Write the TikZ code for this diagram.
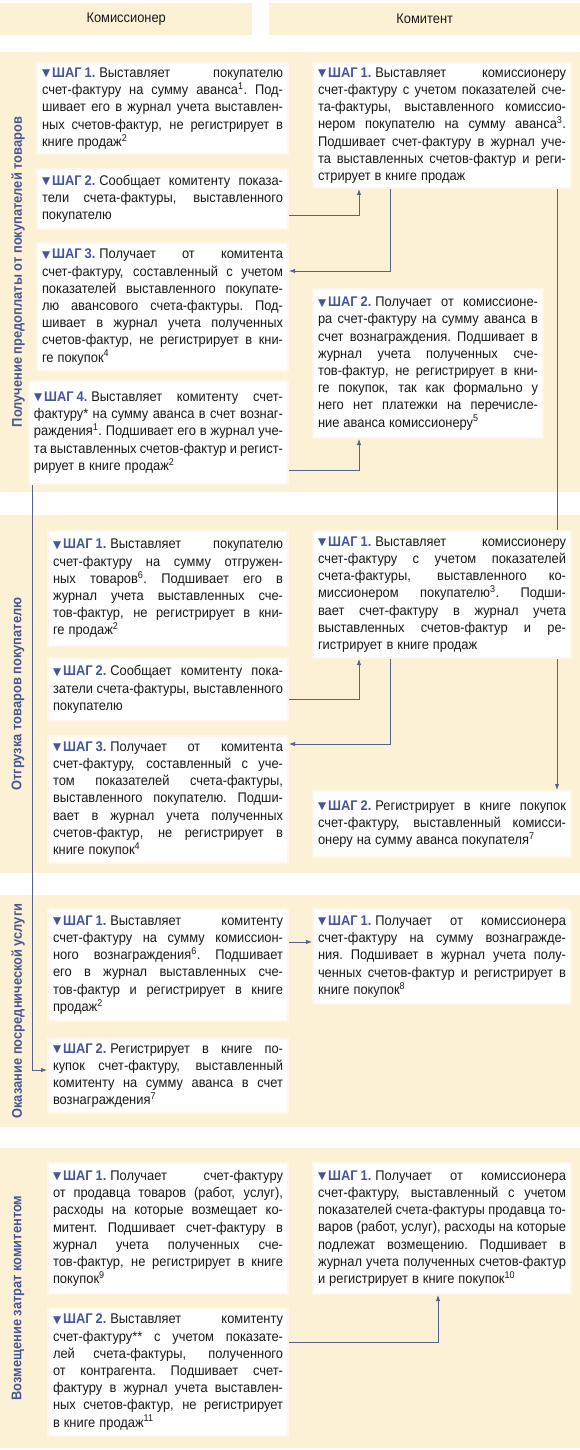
\documentclass[tikz,border=0pt]{standalone}
\usepackage{fontspec}
\setmainfont{Liberation Sans}[FakeStretch=0.92]
\newfontfamily\djv{DejaVu Sans}
\usetikzlibrary{arrows.meta}
\definecolor{band}{RGB}{253,241,213}
\definecolor{stepblue}{RGB}{70,86,150}
\definecolor{txt}{RGB}{25,25,25}
\definecolor{conn}{RGB}{88,98,145}
\definecolor{boxedge}{RGB}{254,247,232}
\newlength\bw
\newcommand\stp[1]{{\color{stepblue}\raisebox{0.6pt}{\djv\fontsize{10.5}{10}\selectfont ▼}\hspace{2pt}\textbf{ШАГ\hspace{3pt}#1.}}\hspace{4pt}}
\newcommand\J[1]{{\spaceskip=4pt plus 1fil minus 1.8pt\xspaceskip=4pt plus 1fil minus 1.8pt\makebox[\bw][s]{#1}}}
\pgfdeclarelayer{bands}
\pgfdeclarelayer{lines}
\pgfsetlayers{bands,lines,main}
\begin{document}
\begin{tikzpicture}[x=1pt,y=-1pt,
  stepbox/.style={draw=boxedge, line width=2pt, fill=white, anchor=north west,
    inner xsep=5pt, inner ysep=4pt, align=left, text=txt,
    text width=#1, execute at begin node={\setlength{\bw}{#1}\spaceskip=4pt\xspaceskip=4pt},
    font=\fontsize{14}{17.2}\selectfont},
  hdr/.style={fill=band, anchor=north west, inner sep=0pt, text=txt,
    font=\fontsize{14}{16}\selectfont},
  seclabel/.style={rotate=90, text=stepblue, inner sep=0pt,
    font=\bfseries\fontsize{14}{16}\selectfont},
  arr/.style={draw=conn, line width=0.9pt, -{Latex[length=6pt,width=4.5pt]}}]
\useasboundingbox (0,0) rectangle (580,1450);
\begin{pgfonlayer}{bands}
  \fill[white] (0,0) rectangle (580,1450);
  \fill[band] (0,52) rectangle (580,492);
  \fill[band] (0,515) rectangle (580,873);
  \fill[band] (0,895) rectangle (580,1127);
  \fill[band] (0,1148) rectangle (580,1448);
\end{pgfonlayer}

\node[hdr, minimum width=252pt, minimum height=32pt] (hk) at (0,3) {Комиссионер};
\node[hdr, minimum width=311pt, minimum height=32pt] (ht) at (269,3) {Комитент};

\node[seclabel] (s1) at (18,272) {Получение предоплаты от покупателей товаров};
\node[seclabel] (s2) at (18,694) {Отгрузка товаров покупателю};
\node[seclabel] (s3) at (18,1011) {Оказание посреднической услуги};
\node[seclabel] (s4) at (18,1298) {Возмещение затрат комитентом};

% Section 1
\node[stepbox=241pt, minimum height=91pt] (A1) at (36,62) {%
\J{\stp{1}Выставляет покупателю}\\
\J{счет-фактуру на сумму аванса\textsuperscript{1}. Под-}\\
\J{шивает его в журнал учета выставлен-}\\
\J{ных счетов-фактур, не регистрирует в}\\
книге продаж\textsuperscript{2}};
\node[stepbox=241pt, minimum height=60pt] (A2) at (36,168) {%
\J{\stp{2}Сообщает комитенту показа-}\\
\J{тели счета-фактуры, выставленного}\\
покупателю};
\node[stepbox=241pt, minimum height=128pt] (A3) at (36,242) {%
\J{\stp{3}Получает от комитента}\\
\J{счет-фактуру, составленный с учетом}\\
\J{показателей выставленного покупате-}\\
\J{лю авансового счета-фактуры. Под-}\\
\J{шивает в журнал учета полученных}\\
\J{счетов-фактур, не регистрирует в кни-}\\
ге покупок\textsuperscript{4}};
\node[stepbox=249pt, minimum height=103pt] (A4) at (28,380) {%
\J{\stp{4}Выставляет комитенту счет-}\\
\J{фактуру* на сумму аванса в счет вознаг-}\\
\J{раждения\textsuperscript{1}. Подшивает его в журнал уче-}\\
\J{та выставленных счетов-фактур и регист-}\\
рирует в книге продаж\textsuperscript{2}};
\node[stepbox=248pt, minimum height=125pt] (B1) at (312,62) {%
\J{\stp{1}Выставляет комиссионеру}\\
\J{счет-фактуру с учетом показателей сче-}\\
\J{та-фактуры, выставленного комиссио-}\\
\J{нером покупателю на сумму аванса\textsuperscript{3}.}\\
\J{Подшивает счет-фактуру в журнал уче-}\\
\J{та выставленных счетов-фактур и реги-}\\
стрирует в книге продаж};
\node[stepbox=220pt, minimum height=149pt] (B2) at (312,288) {%
\J{\stp{2}Получает от комиссионе-}\\
\J{ра счет-фактуру на сумму аванса в}\\
\J{счет вознаграждения. Подшивает в}\\
\J{журнал учета полученных сче-}\\
\J{тов-фактур, не регистрирует в кни-}\\
\J{ге покупок, так как формально у}\\
\J{него нет платежки на перечисле-}\\
ние аванса комиссионеру\textsuperscript{5}};

% Section 2
\node[stepbox=230pt, minimum height=115pt] (C1) at (47,530) {%
\J{\stp{1}Выставляет покупателю}\\
\J{счет-фактуру на сумму отгружен-}\\
\J{ных товаров\textsuperscript{6}. Подшивает его в}\\
\J{журнал учета выставленных сче-}\\
\J{тов-фактур, не регистрирует в кни-}\\
ге продаж\textsuperscript{2}};
\node[stepbox=230pt, minimum height=63pt] (C2) at (47,657) {%
\J{\stp{2}Сообщает комитенту пока-}\\
\J{затели счета-фактуры, выставленного}\\
покупателю};
\node[stepbox=230pt, minimum height=127pt] (C3) at (47,735) {%
\J{\stp{3}Получает от комитента}\\
\J{счет-фактуру, составленный с уче-}\\
\J{том показателей счета-фактуры,}\\
\J{выставленного покупателю. Подши-}\\
\J{вает в журнал учета полученных}\\
\J{счетов-фактур, не регистрирует в}\\
книге покупок\textsuperscript{4}};
\node[stepbox=248pt, minimum height=127pt] (D1) at (312,530) {%
\J{\stp{1}Выставляет комиссионеру}\\
\J{счет-фактуру с учетом показателей}\\
\J{счета-фактуры, выставленного ко-}\\
\J{миссионером покупателю\textsuperscript{3}. Подши-}\\
\J{вает счет-фактуру в журнал учета}\\
\J{выставленных счетов-фактур и ре-}\\
гистрирует в книге продаж};
\node[stepbox=248pt, minimum height=66pt] (D2) at (312,790) {%
\J{\stp{2}Регистрирует в книге покупок}\\
\J{счет-фактуру, выставленный комисси-}\\
онеру на сумму аванса покупателя\textsuperscript{7}};

% Section 3
\node[stepbox=230pt, minimum height=112pt] (E1) at (47,908) {%
\J{\stp{1}Выставляет комитенту}\\
\J{счет-фактуру на сумму комиссион-}\\
\J{ного вознаграждения\textsuperscript{6}. Подшивает}\\
\J{его в журнал выставленных сче-}\\
\J{тов-фактур и регистрирует в книге}\\
продаж\textsuperscript{2}};
\node[stepbox=230pt, minimum height=75pt] (E2) at (47,1037) {%
\J{\stp{2}Регистрирует в книге по-}\\
\J{купок счет-фактуру, выставленный}\\
\J{комитенту на сумму аванса в счет}\\
вознаграждения\textsuperscript{7}};
\node[stepbox=248pt, minimum height=95pt] (F1) at (312,908) {%
\J{\stp{1}Получает от комиссионера}\\
\J{счет-фактуру на сумму вознагражде-}\\
\J{ния. Подшивает в журнал учета полу-}\\
\J{ченных счетов-фактур и регистрирует в}\\
книге покупок\textsuperscript{8}};

% Section 4
\node[stepbox=230pt, minimum height=131pt] (G1) at (47,1162) {%
\J{\stp{1}Получает счет-фактуру}\\
\J{от продавца товаров (работ, услуг),}\\
\J{расходы на которые возмещает ко-}\\
\J{митент. Подшивает счет-фактуру в}\\
\J{журнал учета полученных сче-}\\
\J{тов-фактур, не регистрирует в книге}\\
покупок\textsuperscript{9}};
\node[stepbox=230pt, minimum height=128pt] (G2) at (47,1307) {%
\J{\stp{2}Выставляет комитенту}\\
\J{счет-фактуру** с учетом показате-}\\
\J{лей счета-фактуры, полученного}\\
\J{от контрагента. Подшивает счет-}\\
\J{фактуру в журнал учета выставлен-}\\
\J{ных счетов-фактур, не регистрирует}\\
в книге продаж\textsuperscript{11}};
\node[stepbox=248pt, minimum height=131pt] (H1) at (312,1162) {%
\J{\stp{1}Получает от комиссионера}\\
\J{счет-фактуру, выставленный с учетом}\\
\J{показателей счета-фактуры продавца то-}\\
\J{варов (работ, услуг), расходы на которые}\\
\J{подлежат возмещению. Подшивает в}\\
\J{журнал учета полученных счетов-фактур}\\
и регистрирует в книге покупок\textsuperscript{10}};

\begin{pgfonlayer}{lines}
  \draw[arr] ([yshift=15pt]A2.south east) -| ([xshift=47pt]B1.south west);
  \draw[arr] ([xshift=78pt]B1.south west) |- ([yshift=-29pt]A3.north east);
  \draw[arr] ([xshift=245pt]B1.south west) -- ([xshift=245pt]D2.north west);
  \draw[arr] ([yshift=15pt]A4.south east) -| ([xshift=47pt]B2.south west);
  \draw[arr] ([xshift=4pt]A4.south west) |- ([yshift=-33pt]E2.north west);
  \draw[arr] ([yshift=23pt]C2.south east) -| ([xshift=47pt]D1.south west);
  \draw[arr] ([xshift=78pt]D1.south west) |- ([yshift=-9pt]C3.north east);
  \draw[arr] ([yshift=-34pt]E1.north east) -- ([yshift=-34pt]F1.north west);
  \draw[arr] ([yshift=-35pt]G2.north east) -| ([xshift=126pt]H1.south west);
\end{pgfonlayer}
\end{tikzpicture}
\end{document}
